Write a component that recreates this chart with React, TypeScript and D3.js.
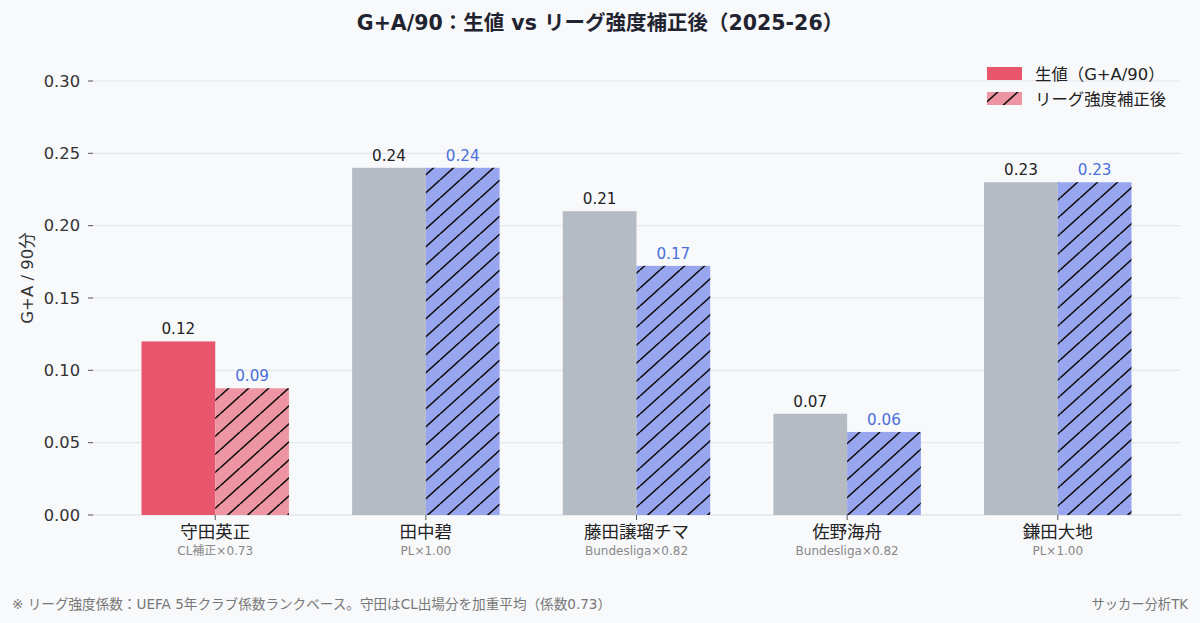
import * as d3 from 'd3';

const players = ['守田英正', '田中碧', '藤田譲瑠チマ', '佐野海舟', '鎌田大地'];
const leagueNotes = ['CL補正×0.73', 'PL×1.00', 'Bundesliga×0.82', 'Bundesliga×0.82', 'PL×1.00'];
const rawValues = [0.12, 0.24, 0.21, 0.07, 0.23];
const adjValues = [0.0876, 0.24, 0.1722, 0.0574, 0.23];
const yTicks = [0, 0.05, 0.1, 0.15, 0.2, 0.25, 0.3];

const W = 1200;
const H = 623;
const FONT = "'DejaVu Sans', 'Noto Sans CJK JP', sans-serif";

// highlight colours for the first player, neutral for the others
const RAW_HI = '#e8566e';
const ADJ_HI = '#ee95a3';
const RAW_BASE = '#b4bbc3';
const ADJ_BASE = '#98a5ef';

export default function App() {
  const x = d3.scaleLinear().domain([-0.585, 4.585]).range([92, 1181]);
  const y = d3.scaleLinear().domain([0, 0.3]).range([515, 81]);
  const bw = x(0.35) - x(0);

  return (
    <svg
      width={W}
      height={H}
      style={{ position: 'absolute', left: 0, top: 0, background: '#f8f9fb' }}
      fontFamily={FONT}
    >
      <defs>
        <pattern id="hatch" patternUnits="userSpaceOnUse" width={20} height={18}>
          <path d="M-20,18 L0,0 M0,18 L20,0 M20,18 L40,0" stroke="#111" strokeWidth={1.6} />
        </pattern>
      </defs>
      <rect width={W} height={H} fill="#f8f9fb" />

      <text x={W / 2} y={30} textAnchor="middle" fontSize={20.5} fontWeight="bold" fill="#1f2430">
        G+A/90：生値 vs リーグ強度補正後（2025-26）
      </text>

      {yTicks.map((t) => (
        <g key={t}>
          <line x1={92} x2={1181} y1={y(t)} y2={y(t)} stroke={t === 0 ? '#d9dce1' : '#e4e6ea'} strokeWidth={1.2} />
          <line x1={88} x2={93} y1={y(t)} y2={y(t)} stroke="#555" strokeWidth={1} />
          <text x={80} y={y(t)} dy="0.35em" textAnchor="end" fontSize={16.3} fill="#333">
            {t.toFixed(2)}
          </text>
        </g>
      ))}

      <text
        transform={`translate(27, 278) rotate(-90)`}
        textAnchor="middle"
        dy="0.35em"
        fontSize={16.5}
        fill="#333"
      >
        G+A / 90分
      </text>

      {players.map((p, i) => {
        const cx = x(i);
        const rawC = i === 0 ? RAW_HI : RAW_BASE;
        const adjC = i === 0 ? ADJ_HI : ADJ_BASE;
        return (
          <g key={p}>
            <rect x={cx - bw} y={y(rawValues[i])} width={bw} height={y(0) - y(rawValues[i])} fill={rawC} />
            <rect x={cx} y={y(adjValues[i])} width={bw} height={y(0) - y(adjValues[i])} fill={adjC} />
            <rect x={cx} y={y(adjValues[i])} width={bw} height={y(0) - y(adjValues[i])} fill="url(#hatch)" />
            <text x={cx - bw / 2} y={y(rawValues[i]) - 7} textAnchor="middle" fontSize={15.2} fill="#222">
              {rawValues[i].toFixed(2)}
            </text>
            <text x={cx + bw / 2} y={y(adjValues[i]) - 7} textAnchor="middle" fontSize={15.2} fill="#4a6fdc">
              {adjValues[i].toFixed(2)}
            </text>
            <line x1={cx} x2={cx} y1={515} y2={520} stroke="#555" />
            <text x={cx} y={538} textAnchor="middle" fontSize={17.5} fill="#222">
              {p}
            </text>
            <text x={cx} y={555} textAnchor="middle" fontSize={12} fill="#888">
              {leagueNotes[i]}
            </text>
          </g>
        );
      })}

      <g>
        <rect x={987} y={67} width={35} height={13} fill={RAW_HI} />
        <text x={1035} y={74} dy="0.35em" fontSize={16.4} fill="#222">
          生値（G+A/90）
        </text>
        <rect x={987} y={92} width={35} height={13} fill={ADJ_HI} />
        <rect x={987} y={92} width={35} height={13} fill="url(#hatch)" />
        <text x={1035} y={99} dy="0.35em" fontSize={16.4} fill="#222">
          リーグ強度補正後
        </text>
      </g>

      <text x={12} y={609} fontSize={13.6} fill="#777">
        ※ リーグ強度係数：UEFA 5年クラブ係数ランクベース。守田はCL出場分を加重平均（係数0.73）
      </text>
      <text x={1188} y={609} textAnchor="end" fontSize={13.3} fill="#777">
        サッカー分析TK
      </text>
    </svg>
  );
}
